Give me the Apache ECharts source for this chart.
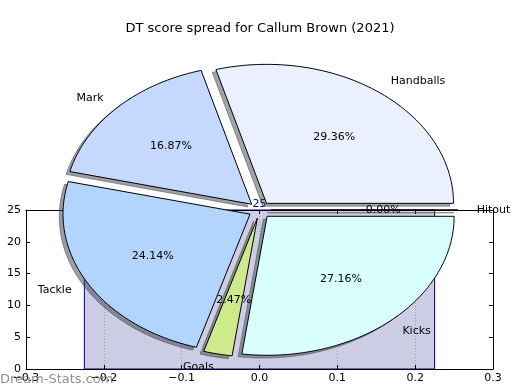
<!DOCTYPE html>
<html><head><meta charset="utf-8">
<script src="https://cdn.jsdelivr.net/npm/echarts@6/dist/echarts.min.js"></script>
<style>html,body{margin:0;padding:0;background:#fff}#c{width:520px;height:390px}</style>
</head><body><div id="c"></div>
<script>
// ---- data ----
const chartTitle = 'DT score spread for Callum Brown (2021)';
const watermark = 'Dream-Stats.com';
const categories = ['Handballs', 'Mark', 'Tackle', 'Goals', 'Kicks', 'Hitout'];
const shares = [29.36, 16.87, 24.14, 2.47, 27.16, 0.00];
const sliceColors = ['#eaf0fe', '#c5d8fe', '#b3d5fd', '#cfea8a', '#d8fefe', '#ffffff'];
const explode = [0.06, 0.06, 0.06, 0.06, 0.06, 0.06];
const barX = [0];
const barValues = [25];
const barWidthData = 0.45;
const xTicks = [-0.3, -0.2, -0.1, 0.0, 0.1, 0.2, 0.3];
const yTicks = [0, 5, 10, 15, 20, 25];

// ---- helpers ----
const FONT = 'DejaVu Sans';
const total = shares.reduce((a, b) => a + b, 0);
const angles = [];
(function () { let acc = 0; shares.forEach(v => { const a1 = acc / total * 360; acc += v; const a2 = acc / total * 360; angles.push([a1, a2]); }); })();
function wedgeCenter(i) {
  const am = (angles[i][0] + angles[i][1]) / 2 * Math.PI / 180;
  return [explode[i] * Math.cos(am), explode[i] * Math.sin(am), am];
}
function wedgePts(i, shift) {
  const [a1, a2] = angles[i];
  const c = wedgeCenter(i);
  const cx = c[0] + shift, cy = c[1] + shift;
  const pts = [[cx, cy]];
  const n = Math.max(1, Math.ceil(a2 - a1));
  for (let k = 0; k <= n; k++) {
    const t = (a1 + (a2 - a1) * k / n) * Math.PI / 180;
    pts.push([cx + Math.cos(t), cy + Math.sin(t)]);
  }
  return pts;
}
function shadowColor(hex) {
  const r = parseInt(hex.slice(1, 3), 16), g = parseInt(hex.slice(3, 5), 16), b = parseInt(hex.slice(5, 7), 16);
  return 'rgba(' + Math.round(r * 0.3) + ',' + Math.round(g * 0.3) + ',' + Math.round(b * 0.3) + ',0.5)';
}
function fmtX(v) { const r = Math.round(v * 10) / 10; return (r < 0 ? '\u2212' : '') + Math.abs(r).toFixed(1); }

const chart = echarts.init(document.getElementById('c'), null, { renderer: 'canvas' });
const pieData = shares.map((v, i) => [0, 0, v]);

const option = {
  animation: false,
  backgroundColor: '#fff',
  title: { text: chartTitle, left: 'center', top: 17, textStyle: { fontFamily: FONT, fontSize: 13, fontWeight: 'normal', color: '#000' } },
  graphic: [{ type: 'text', left: 0, top: 373, z: 100, style: { text: watermark, fill: 'rgba(125,125,125,0.85)', font: '13px "DejaVu Sans"' } }],
  grid: [
    { left: 26, right: 27, top: 210, bottom: 21, show: false },
    { left: 26, width: 467.5, top: 36.25, height: 347.5, show: false }
  ],
  xAxis: [
    { gridIndex: 0, type: 'value', min: xTicks[0], max: xTicks[xTicks.length - 1], interval: 0.1, position: 'bottom', z: 2,
      axisLine: { lineStyle: { color: '#000', width: 1 } }, axisTick: { inside: true, length: 4, lineStyle: { color: '#000' } },
      axisLabel: { formatter: fmtX, color: '#000', fontFamily: FONT, fontSize: 11, margin: 4 },
      splitLine: { show: true, lineStyle: { type: [1, 2], color: '#9a9a9a', width: 1 } } },
    { gridIndex: 0, type: 'value', min: xTicks[0], max: xTicks[xTicks.length - 1], interval: 0.1, position: 'top', z: 2,
      axisLine: { onZero: false, lineStyle: { color: '#000', width: 1 } }, axisTick: { inside: true, length: 4, lineStyle: { color: '#000' } },
      axisLabel: { show: false }, splitLine: { show: false } },
    { gridIndex: 1, type: 'value', min: -1.25, max: 1.25, show: false }
  ],
  yAxis: [
    { gridIndex: 0, type: 'value', min: yTicks[0], max: yTicks[yTicks.length - 1], interval: 5, position: 'left', z: 2,
      axisLine: { show: true, onZero: false, lineStyle: { color: '#000', width: 1 } }, axisTick: { show: true, inside: true, length: 4, lineStyle: { color: '#000' } },
      axisLabel: { color: '#000', fontFamily: FONT, fontSize: 11, margin: 5 }, splitLine: { show: false } },
    { gridIndex: 0, type: 'value', min: yTicks[0], max: yTicks[yTicks.length - 1], interval: 5, position: 'right', z: 2,
      axisLine: { show: true, onZero: false, lineStyle: { color: '#000', width: 1 } }, axisTick: { show: true, inside: true, length: 4, lineStyle: { color: '#000' } },
      axisLabel: { show: false }, splitLine: { show: false } },
    { gridIndex: 1, type: 'value', min: -1.25, max: 1.25, show: false }
  ],
  series: [
    { type: 'custom', xAxisIndex: 0, yAxisIndex: 0, z: 1, silent: true,
      data: barX.map((x, i) => [x, barValues[i]]),
      renderItem: function (params, api) {
        const x = api.value(0), v = api.value(1);
        const p0 = api.coord([x - barWidthData / 2, v]);
        const p1 = api.coord([x + barWidthData / 2, 0]);
        return { type: 'group', children: [
          { type: 'rect', shape: { x: p0[0], y: p0[1], width: p1[0] - p0[0], height: p1[1] - p0[1] }, style: { fill: '#cdcde6', stroke: '#000080', lineWidth: 1 } },
          { type: 'text', style: { text: String(v), x: p0[0] + (p1[0] - p0[0]) / 2, y: p0[1] - 0.5, align: 'center', verticalAlign: 'bottom', fill: '#000080', fontFamily: FONT, fontSize: 11 } }
        ] };
      } },
    { type: 'custom', xAxisIndex: 2, yAxisIndex: 2, z: 3, silent: true, data: pieData,
      renderItem: function (params, api) {
        const i = params.dataIndex;
        const c = shadowColor(sliceColors[i]);
        return { type: 'polygon', shape: { points: wedgePts(i, -0.02).map(p => api.coord(p)) }, style: { fill: c, stroke: c, lineWidth: 1 } };
      } },
    { type: 'custom', xAxisIndex: 2, yAxisIndex: 2, z: 4, silent: true, data: pieData,
      renderItem: function (params, api) {
        const i = params.dataIndex;
        return { type: 'polygon', shape: { points: wedgePts(i, 0).map(p => api.coord(p)) }, style: { fill: sliceColors[i], stroke: '#000', lineWidth: 1 } };
      } },
    { type: 'custom', xAxisIndex: 2, yAxisIndex: 2, z: 5, silent: true, data: pieData,
      renderItem: function (params, api) {
        const i = params.dataIndex;
        const c = wedgeCenter(i), am = c[2];
        const lp = api.coord([c[0] + 1.1 * Math.cos(am), c[1] + 1.1 * Math.sin(am)]);
        const pp = api.coord([c[0] + 0.6 * Math.cos(am), c[1] + 0.6 * Math.sin(am)]);
        return { type: 'group', children: [
          { type: 'text', style: { text: categories[i], x: lp[0], y: lp[1], align: Math.cos(am) > 0 ? 'left' : 'right', verticalAlign: 'middle', fill: '#000', fontFamily: FONT, fontSize: 11 } },
          { type: 'text', style: { text: api.value(2).toFixed(2) + '%', x: pp[0], y: pp[1], align: 'center', verticalAlign: 'middle', fill: '#000', fontFamily: FONT, fontSize: 11 } }
        ] };
      } }
  ]
};
chart.setOption(option);
</script></body></html>
